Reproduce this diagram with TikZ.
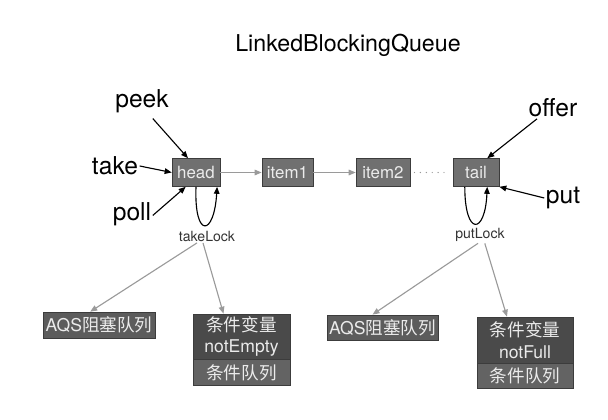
\documentclass[tikz,border=0pt]{standalone}
\usepackage{fontspec}
\setmainfont{TeX Gyre Heros}
\newfontfamily\cjk{Noto Sans CJK SC}
\usetikzlibrary{arrows.meta,shadows}
\definecolor{boxfill}{HTML}{707070}
\definecolor{boxline}{HTML}{3C3C3C}
\definecolor{boxtext}{HTML}{EBEBEB}
\definecolor{aqsfill}{HTML}{5C5C5C}
\definecolor{condfill}{HTML}{4A4A4A}
\definecolor{queuefill}{HTML}{636363}
\definecolor{linkgray}{HTML}{9A9A9A}
\tikzset{
  qbox/.style={draw=boxline,fill=boxfill,text=boxtext,minimum height=0.7cm,
    inner sep=1pt,font=\fontsize{12}{14}\selectfont,
    drop shadow={opacity=0.25,shadow xshift=0.6pt,shadow yshift=-0.6pt}},
  lowbox/.style={qbox,fill=aqsfill,font=\fontsize{12.5}{15.5}\selectfont},
  oplabel/.style={font=\fontsize{17.5}{20}\selectfont,inner sep=1pt},
  locklabel/.style={font=\fontsize{10}{12}\selectfont,text=black!80,inner sep=1pt},
  oparrow/.style={-{Triangle[length=5pt,width=4pt]},line width=0.8pt},
  link/.style={-{Triangle[length=5pt,width=4pt]},draw=linkgray,line width=0.8pt},
}
\begin{document}
\begin{tikzpicture}[x=0.025cm,y=-0.025cm]
  \useasboundingbox (0,0) rectangle (608,420);
  \node[font=\fontsize{16.5}{20}\selectfont] (title) at (348,45) {LinkedBlockingQueue};
  % the queue
  \foreach \n/\x/\w in {head/196/1.2, item1/287.5/1.28, item2/383/1.35, tail/476/1.15}{
    \node[qbox,minimum width=\w cm] (\n) at (\x,172.5) {\n};
  }
  \draw[link] (head) -- (item1);
  \draw[link] (item1) -- (item2);
  \draw[linkgray,line width=1pt,line cap=round,dash pattern=on 0pt off 4.2pt,
    shorten <=3pt,shorten >=2pt] (item2) -- (tail);
  % take side
  \node[oplabel] (peek) at (142,101) {peek};
  \node[oplabel] (take) at (115,166) {take};
  \node[oplabel] (poll) at (132,214) {poll};
  \draw[oparrow] ([xshift=0.27cm,yshift=-3pt]peek.south) -- ([xshift=-0.2cm]head.north);
  \draw[oparrow] (take.east) -- (head.west);
  \draw[oparrow] ([yshift=-1pt]poll.east) -- ([xshift=0.35cm]head.south west);
  \draw[oparrow] (head.south) .. controls +(-2,52) and +(-3,50) .. ([xshift=-0.08cm]head.south east);
  \node[locklabel] (takeLock) at (207,236) {takeLock};
  % put side
  \node[oplabel] (offer) at (553,108) {offer};
  \node[oplabel] (put) at (563,198) {put};
  \draw[oparrow] ([xshift=0.25cm]offer.south west) -- ([xshift=-0.3cm]tail.north east);
  \draw[oparrow] (put.west) -- (tail.south east);
  \draw[oparrow] ([xshift=-0.28cm]tail.south) .. controls +(0,50) and +(-2,48) .. ([xshift=0.28cm]tail.south);
  \node[locklabel] (putLock) at (480,235) {putLock};
  % lock details
  \node[lowbox,minimum width=2.8cm,minimum height=0.65cm] (aqsL) at (99,325) {AQS{\cjk 阻塞队列}};
  \node[lowbox,fill=condfill,minimum width=2.425cm,minimum height=1.125cm,align=center]
    (condL) at (241.5,336.5) {{\cjk 条件变量}\\notEmpty};
  \node[lowbox,fill=queuefill,minimum width=2.425cm,minimum height=0.65cm,anchor=north]
    (queueL) at (condL.south) {\cjk 条件队列};
  \node[lowbox,minimum width=2.78cm,minimum height=0.63cm] (aqsR) at (382.5,327.5) {AQS{\cjk 阻塞队列}};
  \node[lowbox,fill=condfill,minimum width=2.4cm,minimum height=1.15cm,align=center]
    (condR) at (525,340) {{\cjk 条件变量}\\notFull};
  \node[lowbox,fill=queuefill,minimum width=2.4cm,minimum height=0.625cm,anchor=north]
    (queueR) at (condR.south) {\cjk 条件队列};
  \draw[link] ([xshift=-0.25cm]takeLock.south) -- ([xshift=-0.22cm]aqsL.north);
  \draw[link] ([xshift=-0.1cm]takeLock.south) -- ([xshift=-0.45cm]condL.north);
  \draw[link] ([xshift=-0.05cm]putLock.south) -- ([xshift=-0.25cm]aqsR.north);
  \draw[link] ([xshift=0.12cm]putLock.south) -- ([xshift=-0.45cm]condR.north);
\end{tikzpicture}
\end{document}
